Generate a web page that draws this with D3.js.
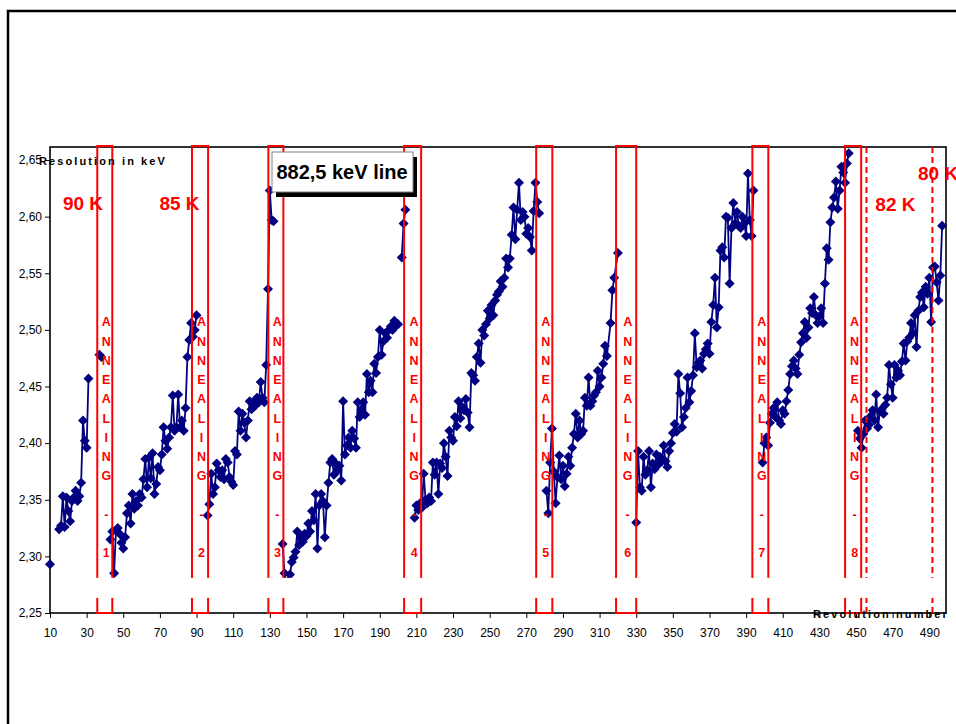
<!DOCTYPE html>
<html>
<head>
<meta charset="utf-8">
<script src="https://cdn.jsdelivr.net/npm/d3@7"></script>
<style>
  body { margin: 0; background: #fff; }
  text { font-family: "Liberation Sans", Arial, sans-serif; }
</style>
</head>
<body>
<div id="chart"></div>
<script>
// resolution (keV) of the 882,5 keV line per revolution, one array per run between annealings
var run0 = [[10, 2.293]];
var run1 = [[15, 2.324], [16, 2.327], [17, 2.353], [18, 2.326], [19, 2.352], [20, 2.340], [21, 2.331],
  [22, 2.349], [23, 2.352], [24, 2.358], [25, 2.349], [26, 2.353], [27, 2.365], [28, 2.420],
  [29, 2.402], [30, 2.396], [31, 2.457]];
var run1b = [[37, 2.478], [38, 2.476]];
var run2 = [[43, 2.315], [44, 2.322], [45, 2.285], [46, 2.323], [47, 2.325], [48, 2.320], [49, 2.312],
  [50, 2.307], [51, 2.317], [52, 2.338], [53, 2.345], [54, 2.329], [55, 2.355], [56, 2.342],
  [57, 2.349], [58, 2.345], [59, 2.355], [60, 2.352], [61, 2.368], [62, 2.386], [63, 2.361],
  [64, 2.387], [65, 2.369], [66, 2.391], [67, 2.355], [68, 2.364], [69, 2.379], [70, 2.376],
  [71, 2.390], [72, 2.414], [73, 2.402], [74, 2.395], [75, 2.405], [76, 2.414], [77, 2.442],
  [78, 2.411], [79, 2.414], [80, 2.443], [81, 2.414], [82, 2.420], [83, 2.411], [84, 2.431],
  [85, 2.476], [86, 2.491], [87, 2.506], [88, 2.494], [89, 2.500], [90, 2.513]];
var run3 = [[96, 2.336], [97, 2.346], [98, 2.373], [99, 2.355], [100, 2.361], [101, 2.382], [102, 2.376],
  [103, 2.370], [104, 2.376], [105, 2.368], [106, 2.386], [107, 2.383], [108, 2.370], [109, 2.366],
  [110, 2.363], [111, 2.393], [112, 2.390], [113, 2.428], [114, 2.411], [115, 2.426], [116, 2.418],
  [117, 2.405], [118, 2.420], [119, 2.437], [120, 2.430], [121, 2.436], [122, 2.433], [123, 2.440],
  [124, 2.436], [125, 2.454], [126, 2.440], [127, 2.436], [128, 2.469], [129, 2.536], [130, 2.623],
  [131, 2.597], [132, 2.596]];
var run4 = [[137, 2.311], [138, 2.285], [139, 2.268], [140, 2.278], [141, 2.284], [142, 2.295], [143, 2.299],
  [144, 2.304], [145, 2.322], [146, 2.310], [147, 2.317], [148, 2.313], [149, 2.320], [150, 2.318],
  [151, 2.329], [152, 2.322], [153, 2.340], [154, 2.332], [155, 2.355], [156, 2.307], [157, 2.345],
  [158, 2.355], [159, 2.349], [160, 2.317], [161, 2.345], [162, 2.365], [163, 2.383], [164, 2.386],
  [165, 2.372], [166, 2.382], [167, 2.376], [168, 2.380], [169, 2.367], [170, 2.437], [171, 2.390],
  [172, 2.398], [173, 2.405], [174, 2.396], [175, 2.411], [176, 2.404], [177, 2.396], [178, 2.436],
  [179, 2.423], [180, 2.430], [181, 2.436], [182, 2.425], [183, 2.461], [184, 2.445], [185, 2.455],
  [186, 2.445], [187, 2.470], [188, 2.462], [189, 2.476], [190, 2.500], [191, 2.478], [192, 2.490],
  [193, 2.497], [194, 2.493], [195, 2.500], [196, 2.503], [197, 2.500], [198, 2.508], [199, 2.504],
  [200, 2.505]];
var run4b = [[202, 2.564], [203, 2.594], [204, 2.606]];
var run5 = [[209, 2.334], [210, 2.345], [211, 2.341], [212, 2.347], [213, 2.343], [214, 2.373], [215, 2.350],
  [216, 2.347], [217, 2.352], [218, 2.349], [219, 2.383], [220, 2.372], [221, 2.383], [222, 2.355],
  [223, 2.382], [224, 2.378], [225, 2.400], [226, 2.388], [227, 2.371], [228, 2.411], [229, 2.405],
  [230, 2.402], [231, 2.423], [232, 2.415], [233, 2.437], [234, 2.422], [235, 2.432], [236, 2.429],
  [237, 2.439], [238, 2.427], [239, 2.414], [240, 2.462], [241, 2.460], [242, 2.455], [243, 2.476],
  [244, 2.488], [245, 2.471], [246, 2.500], [247, 2.495], [248, 2.505], [249, 2.517], [250, 2.510],
  [251, 2.522], [252, 2.513], [253, 2.526], [254, 2.531], [255, 2.534], [256, 2.543], [257, 2.538],
  [258, 2.546], [259, 2.563], [260, 2.555], [261, 2.563], [262, 2.584], [263, 2.608], [264, 2.580],
  [265, 2.606], [266, 2.630], [267, 2.597], [268, 2.604], [269, 2.600], [270, 2.585], [271, 2.590],
  [272, 2.582], [273, 2.570], [274, 2.605], [275, 2.630], [276, 2.613], [277, 2.603]];
var run6 = [[281, 2.358], [282, 2.338], [283, 2.383], [284, 2.413], [285, 2.375], [286, 2.347], [287, 2.370],
  [288, 2.389], [289, 2.368], [290, 2.380], [291, 2.362], [292, 2.373], [293, 2.388], [294, 2.380],
  [295, 2.396], [296, 2.408], [297, 2.426], [298, 2.405], [299, 2.420], [300, 2.408], [301, 2.411],
  [302, 2.440], [303, 2.433], [304, 2.458], [305, 2.433], [306, 2.437], [307, 2.442], [308, 2.445],
  [309, 2.464], [310, 2.450], [311, 2.458], [312, 2.470], [313, 2.486], [314, 2.477], [316, 2.506],
  [317, 2.535], [318, 2.546], [320, 2.568]];
var run7 = [[330, 2.330], [331, 2.393], [332, 2.361], [333, 2.358], [334, 2.388], [335, 2.372], [336, 2.376],
  [337, 2.393], [338, 2.361], [339, 2.382], [340, 2.377], [341, 2.390], [342, 2.381], [343, 2.388],
  [344, 2.384], [345, 2.398], [346, 2.384], [347, 2.379], [348, 2.393], [349, 2.400], [350, 2.409],
  [351, 2.417], [352, 2.410], [353, 2.461], [354, 2.444], [355, 2.414], [356, 2.423], [357, 2.431],
  [358, 2.458], [359, 2.436], [360, 2.446], [361, 2.460], [362, 2.497], [363, 2.467], [364, 2.471],
  [365, 2.473], [366, 2.466], [367, 2.479], [368, 2.483], [369, 2.488], [370, 2.479], [371, 2.507],
  [372, 2.522], [373, 2.546], [374, 2.502], [375, 2.520], [376, 2.570], [377, 2.573], [378, 2.564],
  [379, 2.600], [380, 2.599], [381, 2.541], [382, 2.590], [383, 2.612], [384, 2.594], [385, 2.604],
  [386, 2.592], [387, 2.590], [388, 2.600], [389, 2.594], [390, 2.583], [391, 2.638], [392, 2.597],
  [393, 2.583], [394, 2.623]];
var run8 = [[399, 2.383], [400, 2.400], [401, 2.405], [402, 2.398], [403, 2.418], [404, 2.426], [405, 2.431],
  [406, 2.423], [407, 2.436], [408, 2.420], [409, 2.417], [410, 2.429], [411, 2.426], [412, 2.437],
  [413, 2.447], [414, 2.461], [415, 2.468], [416, 2.473], [417, 2.466], [418, 2.461], [419, 2.478],
  [420, 2.489], [421, 2.497], [422, 2.507], [423, 2.493], [424, 2.502], [425, 2.519], [426, 2.515],
  [427, 2.529], [428, 2.513], [429, 2.506], [430, 2.512], [431, 2.519], [432, 2.506], [433, 2.541],
  [434, 2.572], [435, 2.562], [436, 2.595], [437, 2.608], [438, 2.617], [439, 2.631], [440, 2.607],
  [441, 2.623], [442, 2.644], [443, 2.639], [444, 2.630], [445, 2.647], [446, 2.656]];
var run9 = [[451, 2.411], [452, 2.404], [453, 2.396], [454, 2.408], [455, 2.420], [456, 2.413], [457, 2.416],
  [458, 2.424], [459, 2.429], [460, 2.420], [461, 2.443], [462, 2.414], [463, 2.428], [464, 2.430],
  [465, 2.426], [466, 2.434], [467, 2.440], [468, 2.469], [469, 2.452], [470, 2.440], [471, 2.469],
  [472, 2.458], [473, 2.464], [474, 2.460], [475, 2.472], [476, 2.488], [477, 2.473], [478, 2.490],
  [479, 2.493], [480, 2.506], [481, 2.497], [482, 2.513], [483, 2.485], [484, 2.517], [485, 2.529],
  [486, 2.533], [487, 2.520], [488, 2.538], [489, 2.532], [490, 2.546], [491, 2.507], [492, 2.555],
  [493, 2.556], [494, 2.542], [495, 2.526], [496, 2.548], [497, 2.592]];
var runs = [run0, run1, run1b, run2, run3, run4, run4b, run5, run6, run7, run8, run9];

// annealing periods (start / end revolution) and temperature changes
var annealings = [[35.8, 44.0], [87.5, 96.3], [129.2, 137.4], [203.3, 212.6],
  [275.4, 284.2], [319.0, 330.0], [393.4, 402.1], [444.0, 452.8]];
var tempChanges = [455.7, 491.7];
var tempLabels = [["90 K", 28.0, 2.612, "middle"], ["85 K", 80.7, 2.612, "middle"],
  ["82 K", 471.5, 2.611, "middle"], ["80 K", 483.8, 2.6385, "start"]];

var yTicks = [2.25, 2.30, 2.35, 2.40, 2.45, 2.50, 2.55, 2.60, 2.65];
var xTicks = d3.range(10, 491, 20);

// dimensions
var margin = {top: 147, left: 50},
    width = 896,
    height = 466;

var svg = d3.select("#chart")
  .append("svg")
  .attr("width", 956)
  .attr("height", 724);

// outer frame (runs off the page right and bottom)
svg.append("rect")
  .attr("x", 8).attr("y", 11)
  .attr("width", 1000).attr("height", 800)
  .attr("fill", "none")
  .attr("stroke", "#000")
  .attr("stroke-width", 2.5);

var g = svg.append("g")
  .attr("transform", "translate(" + margin.left + "," + margin.top + ")");

var xScale = d3.scaleLinear().domain([10, 499.1]).range([0, width]);
var yScale = d3.scaleLinear().domain([2.25, 2.6615]).range([height, 0]);

var comma = function(d) { return d3.format(".2f")(d).replace(".", ","); };

// axes
var yAxis = g.append("g")
  .call(d3.axisLeft(yScale).tickValues(yTicks).tickFormat(comma).tickSize(5).tickSizeOuter(0).tickPadding(3));
var xAxis = g.append("g")
  .attr("transform", "translate(0," + height + ")")
  .call(d3.axisBottom(xScale).tickValues(xTicks).tickFormat(d3.format("d")).tickSize(5).tickSizeOuter(0).tickPadding(10));
[yAxis, xAxis].forEach(function(a) {
  a.select(".domain").remove();
  a.selectAll("line").attr("stroke", "#000");
  a.selectAll("text").attr("fill", "#000").style("font-size", "12px")
    .style("font-family", '"Liberation Sans", Arial, sans-serif');
});

// plot frame
g.append("rect")
  .attr("width", width).attr("height", height)
  .attr("fill", "none")
  .attr("stroke", "#000")
  .attr("stroke-width", 1.6);

// data lines and diamond markers
var line = d3.line()
  .x(function(d) { return xScale(d[0]); })
  .y(function(d) { return yScale(d[1]); });

var series = g.append("g");
series.selectAll(".run")
  .data(runs)
  .enter()
  .append("path")
  .attr("class", "run")
  .attr("d", line)
  .attr("fill", "none")
  .attr("stroke", "#000080")
  .attr("stroke-width", 1.8);

series.selectAll(".pt")
  .data(d3.merge(runs))
  .enter()
  .append("path")
  .attr("class", "pt")
  .attr("transform", function(d) { return "translate(" + xScale(d[0]) + "," + yScale(d[1]) + ")"; })
  .attr("d", "M0,-5L5,0L0,5L-5,0Z")
  .attr("fill", "#000080");

// annealing boxes
g.selectAll(".anneal")
  .data(annealings)
  .enter()
  .append("rect")
  .attr("class", "anneal")
  .attr("x", function(d) { return xScale(d[0]); })
  .attr("y", -1)
  .attr("width", function(d) { return xScale(d[1]) - xScale(d[0]); })
  .attr("height", height + 1)
  .attr("fill", "none")
  .attr("stroke", "#ff0000")
  .attr("stroke-width", 2);

// temperature change lines
g.selectAll(".tchange")
  .data(tempChanges)
  .enter()
  .append("line")
  .attr("x1", function(d) { return xScale(d); })
  .attr("x2", function(d) { return xScale(d); })
  .attr("y1", 0).attr("y2", height)
  .attr("stroke", "#ff0000")
  .attr("stroke-width", 2)
  .attr("stroke-dasharray", "6,4");

// empty white text box near the bottom
g.append("rect")
  .attr("x", 2).attr("y", yScale(2.281))
  .attr("width", width - 4).attr("height", 20)
  .attr("fill", "#fff");

// vertical "ANNEALING - n" labels
annealings.forEach(function(a, i) {
  var chars = ("ANNEALING - " + (i + 1)).split("");
  var cx = (xScale(a[0]) + xScale(a[1])) / 2 + 1.5;
  g.append("g").selectAll("text")
    .data(chars)
    .enter()
    .append("text")
    .attr("x", cx)
    .attr("y", function(d, j) { return yScale(2.507) + j * 19.25; })
    .attr("dy", "0.36em")
    .attr("text-anchor", "middle")
    .attr("fill", "#ff0000")
    .style("font-size", "12.5px")
    .style("font-weight", "bold")
    .text(function(d) { return d; });
});

// temperature labels
g.selectAll(".temp")
  .data(tempLabels)
  .enter()
  .append("text")
  .attr("x", function(d) { return xScale(d[1]); })
  .attr("y", function(d) { return yScale(d[2]); })
  .attr("dy", "0.36em")
  .attr("text-anchor", function(d) { return d[3]; })
  .attr("fill", "#ff0000")
  .style("font-size", "19px")
  .style("font-weight", "bold")
  .text(function(d) { return d[0]; });

// axis titles
g.append("text")
  .attr("x", -11).attr("y", 18)
  .style("font-size", "11px")
  .style("font-weight", "bold")
  .style("letter-spacing", "2.1px")
  .text("Resolution in keV");

g.append("text")
  .attr("x", 763).attr("y", height + 5)
  .style("font-size", "11px")
  .style("font-weight", "bold")
  .style("letter-spacing", "2.1px")
  .text("Revolution number");

// "882,5 keV line" callout with shadow
var note = g.append("g").attr("transform", "translate(222,5)");
note.append("rect")
  .attr("x", 4).attr("y", 5)
  .attr("width", 141).attr("height", 40)
  .attr("fill", "#000");
note.append("rect")
  .attr("width", 141).attr("height", 40)
  .attr("fill", "#fff")
  .attr("stroke", "#808080")
  .attr("stroke-width", 1);
note.append("text")
  .attr("x", 70).attr("y", 20)
  .attr("dy", "0.36em")
  .attr("text-anchor", "middle")
  .style("font-size", "20px")
  .style("font-weight", "bold")
  .text("882,5 keV line");
</script>
</body>
</html>
